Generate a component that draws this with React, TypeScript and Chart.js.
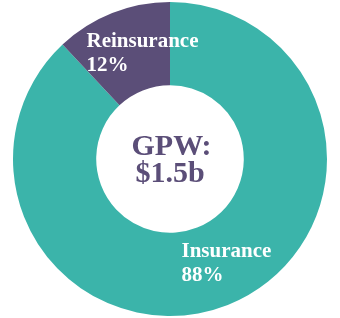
import React, { useEffect, useRef } from "react";
import { Chart, registerables } from "chart.js";

Chart.register(...registerables);

const categories = ["Insurance", "Reinsurance"];
const values = [88, 12];
const percentLabels = ["88%", "12%"];
const centerLines = ["GPW:", "$1.5b"];
const colors = ["#3BB4AA", "#5B4E78"];

const labelPlugin = {
  id: "labelPlugin",
  afterDatasetsDraw(chart: any) {
    const ctx = chart.ctx;
    const meta = chart.getDatasetMeta(0);
    const arc = meta.data[0];
    if (!arc) return;
    const cx = arc.x;
    const cy = arc.y;
    const R = arc.outerRadius;
    ctx.save();
    ctx.textBaseline = "alphabetic";
    ctx.fillStyle = "#ffffff";
    ctx.font = "bold 21px 'Liberation Serif', 'Times New Roman', serif";
    ctx.textAlign = "left";
    const pos = [
      { dx: 0.073, dy: 0.624 },
      { dx: -0.532, dy: -0.713 },
    ];
    categories.forEach((c, i) => {
      const x = cx + pos[i].dx * R;
      const y = cy + pos[i].dy * R;
      ctx.fillText(c, x, y);
      ctx.fillText(percentLabels[i], x, y + 24);
    });
    ctx.fillStyle = "#5B4E78";
    ctx.font = "bold 30px 'Liberation Serif', 'Times New Roman', serif";
    ctx.textAlign = "center";
    ctx.fillText(centerLines[0], cx + 1.5, cy - 4);
    ctx.fillText(centerLines[1], cx, cy + 23);
    ctx.restore();
  },
};

export default function App() {
  const ref = useRef<HTMLCanvasElement>(null);
  useEffect(() => {
    if (!ref.current) return;
    const chart = new Chart(ref.current, {
      type: "doughnut",
      data: {
        labels: categories,
        datasets: [
          {
            data: values,
            backgroundColor: colors,
            borderWidth: 0,
          },
        ],
      },
      options: {
        animation: false,
        responsive: false,
        cutout: "47%",
        layout: { padding: 2 },
        plugins: {
          legend: { display: false },
          tooltip: { enabled: false },
        },
      },
      plugins: [labelPlugin],
    });
    return () => chart.destroy();
  }, []);
  return (
    <div style={{ position: "fixed", left: 0, top: 0, width: 340, height: 318, background: "#fff", overflow: "hidden" }}>
      <canvas ref={ref} width={340} height={318} style={{ display: "block" }} />
    </div>
  );
}
